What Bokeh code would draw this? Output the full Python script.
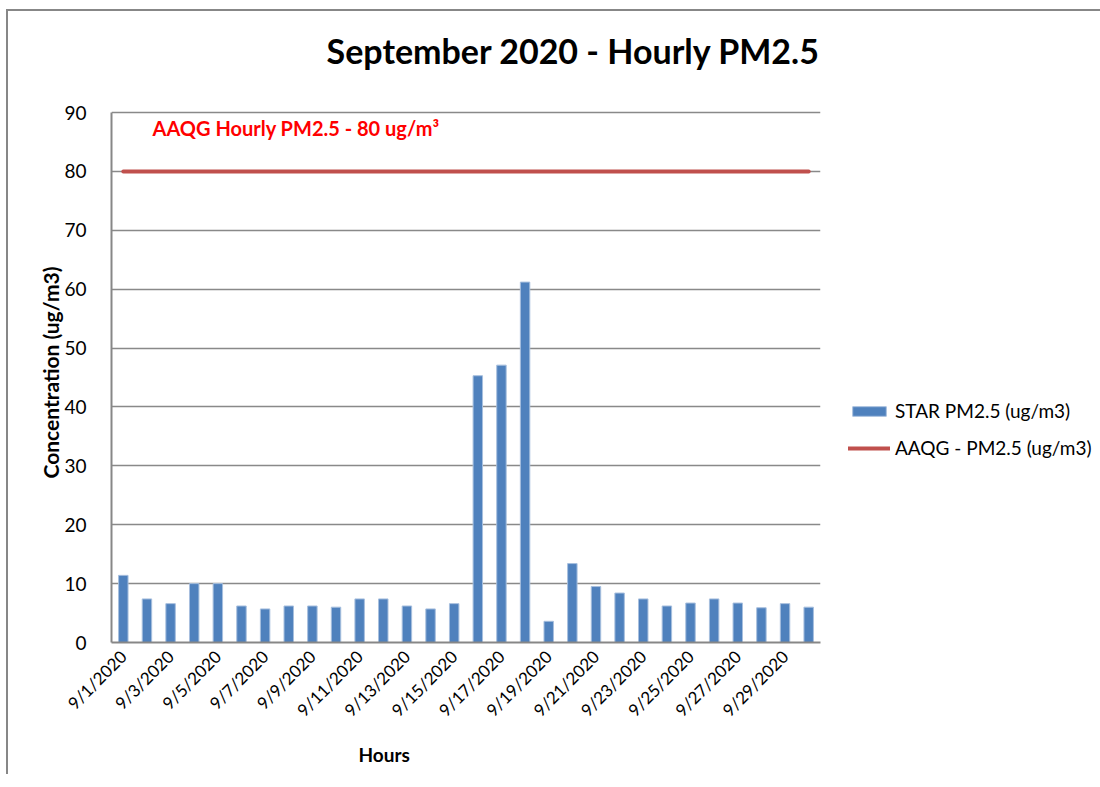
from bokeh.plotting import figure
from bokeh.models import Range1d, FixedTicker, Label, Legend, LegendItem, ColumnDataSource, Title
from bokeh.embed import file_html
from bokeh.resources import INLINE
import math

dates = [f"9/{d}/2020" for d in range(1, 31)]
star_pm25 = [11.4, 7.4, 6.6, 10.0, 10.0, 6.2, 5.7, 6.2, 6.2, 6.0,
             7.4, 7.4, 6.2, 5.7, 6.6, 45.3, 47.1, 61.2, 3.6, 13.4,
             9.5, 8.4, 7.4, 6.2, 6.7, 7.4, 6.7, 5.9, 6.6, 6.0]
aaqg_limit = 80
y_ticks = [0, 10, 20, 30, 40, 50, 60, 70, 80, 90]

idx = list(range(len(dates)))
src = ColumnDataSource(dict(x=idx, y=star_pm25, d=dates))

font = "Lato"
px_per_unit = 530 / 90
top_pad = 81  # room above the 90 gridline for the title
p = figure(frame_width=709, frame_height=530 + top_pad, output_backend="svg", toolbar_location=None,
           x_range=Range1d(-0.5, len(dates) - 0.5), y_range=Range1d(0, 90 + top_pad / px_per_unit),
           min_border_left=103, min_border_right=266, min_border_top=20, min_border_bottom=128)
p.styles = {"border-top": "2px solid #878787", "border-left": "2px solid #878787",
            "margin-left": "6px", "margin-top": "9px"}
p.outline_line_color = None
p.background_fill_color = "white"
p.border_fill_color = "white"

bars = p.vbar(x="x", top="y", width=0.4, source=src, fill_color="#4F81BD", line_color="#A7BFDE", line_width=1)
line = p.line(x=[idx[0], idx[-1]], y=[aaqg_limit, aaqg_limit], line_color="#C0504D", line_width=4, line_cap="round")

p.add_layout(Label(x=8.6, y=100.5, text="September 2020 - Hourly PM2.5", text_font=font,
                   text_font_style="bold", text_font_size="34px", text_align="left",
                   text_baseline="middle", text_color="#000000"))

p.xaxis.ticker = FixedTicker(ticks=idx[::2])
p.xaxis.major_label_overrides = {i: dates[i] for i in idx}
p.xaxis.major_label_orientation = math.pi / 4
p.xaxis.major_label_text_font = font
p.xaxis.major_label_text_font_size = "17px"
p.xaxis.major_label_text_color = "#000000"
p.xaxis.major_tick_line_color = None
p.xaxis.minor_tick_line_color = None
p.xaxis.axis_line_color = "#878787"
p.xaxis.axis_line_width = 2
p.xgrid.grid_line_color = None

p.add_layout(Title(text="Hours", align="left", offset=247, text_font=font, text_font_style="bold",
                   text_font_size="19px", text_color="#000000", standoff=18), "below")

p.yaxis.ticker = FixedTicker(ticks=y_ticks)
p.yaxis.bounds = (0, 90)
p.yaxis.major_label_text_font = font
p.yaxis.major_label_text_font_size = "19px"
p.yaxis.major_label_text_color = "#000000"
p.yaxis.major_tick_line_color = None
p.yaxis.minor_tick_line_color = None
p.yaxis.axis_line_color = "#878787"
p.yaxis.axis_line_width = 2
p.yaxis.major_label_standoff = 19
p.ygrid.grid_line_color = "#898989"
p.ygrid.grid_line_width = 1.5

p.add_layout(Title(text="Concentration (ug/m3)", align="left", offset=164, text_font=font,
                   text_font_style="bold", text_font_size="21px", text_color="#000000",
                   standoff=-3), "left")

p.add_layout(Label(x=1.235, y=87.4, text="AAQG Hourly PM2.5 - 80 ug/m\u00b3", text_font=font,
                   text_font_style="bold", text_font_size="20px", text_align="left",
                   text_baseline="middle", text_color="#FF0000"))

legend = Legend(items=[LegendItem(label="STAR PM2.5 (ug/m3)", renderers=[bars]),
                       LegendItem(label="AAQG - PM2.5 (ug/m3)", renderers=[line])],
                location=(28, 183), glyph_width=42, glyph_height=12, label_height=20,
                spacing=14, label_standoff=5, padding=4, margin=0,
                label_text_font=font, label_text_font_size="19px", label_text_color="#000000",
                border_line_color=None, background_fill_alpha=0)
p.add_layout(legend, "right")

open("out.html", "w").write(file_html(p, INLINE))
